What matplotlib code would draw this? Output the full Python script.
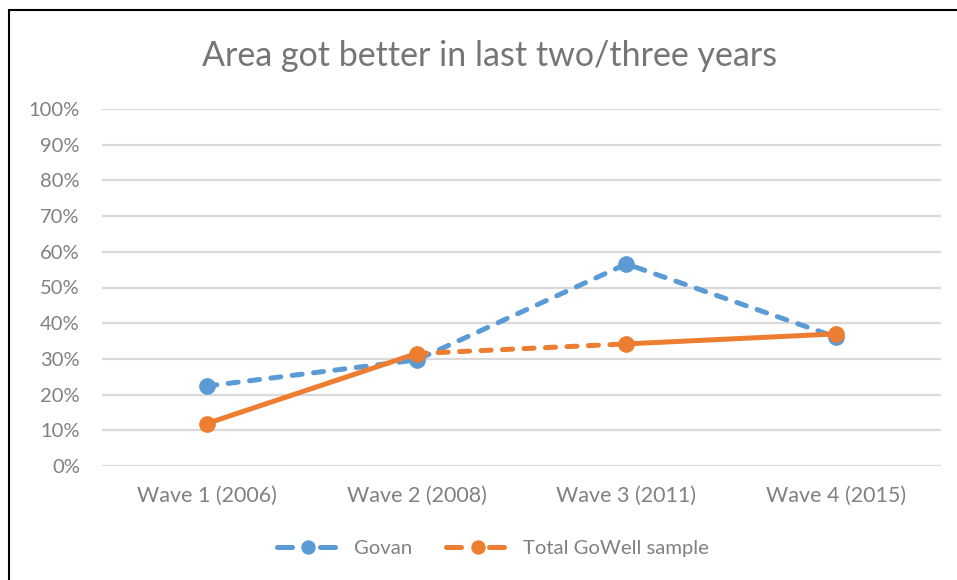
import matplotlib
matplotlib.use("Agg")
from matplotlib import pyplot
from matplotlib.lines import Line2D
from matplotlib.patches import Rectangle
from matplotlib.ticker import FuncFormatter

waves = ["Wave 1 (2006)", "Wave 2 (2008)", "Wave 3 (2011)", "Wave 4 (2015)"]
govan = [22.4, 29.7, 56.6, 36.1]
total_gowell = [11.9, 31.5, 34.2, 37.0]

BLUE = "#5b9bd5"
ORANGE = "#ed7d31"
GREY = "#808080"

pyplot.rcParams["font.family"] = ["Lato", "DejaVu Sans"]

fig = pyplot.figure(figsize=(9.57, 5.8), dpi=100)
ax = fig.add_axes([102 / 957, 1 - 466 / 580, (941 - 102) / 957, (466 - 109) / 580])

x = list(range(len(waves)))
lw = 3.6
ms = 11
dashed = (0, (2.0, 2.3))

# Govan: dashed all the way
ax.plot(x, govan, color=BLUE, lw=lw, ls=dashed, dash_capstyle="round",
        marker="o", ms=ms, zorder=3)

# Total GoWell sample: the middle segment is dashed, the others solid
for i in range(len(x) - 1):
    style = dashed if i == 1 else "-"
    ax.plot(x[i:i + 2], total_gowell[i:i + 2], color=ORANGE, lw=lw, ls=style,
            dash_capstyle="round", solid_capstyle="round", zorder=4)
ax.plot(x, total_gowell, color=ORANGE, ls="none", marker="o", ms=ms, zorder=4)

ax.set_xlim(-0.5, len(waves) - 0.5)
ax.set_ylim(0, 100)
ax.set_yticks(range(0, 101, 10))
ax.yaxis.set_major_formatter(FuncFormatter(lambda v, p: "%d%%" % v))
ax.set_xticks(x)
ax.set_xticklabels(waves)
ax.tick_params(axis="x", length=0, labelsize=15.5, labelcolor=GREY, pad=14)
ax.tick_params(axis="y", length=0, labelsize=14.5, labelcolor=GREY, pad=16)
ax.yaxis.grid(True, color="#d9d9d9", lw=1.6)
ax.set_axisbelow(True)
for s in ax.spines.values():
    s.set_visible(False)

fig.text(490 / 957, 1 - 56 / 580, "Area got better in last two/three years",
         ha="center", va="center", fontsize=24.5, color="#757575")

leg_ls = (0, (3, 5.6))
handles = [
    Line2D([], [], color=BLUE, lw=lw, ls=leg_ls, dash_capstyle="round",
           marker="o", ms=ms * 0.85),
    Line2D([], [], color=ORANGE, lw=lw, ls=leg_ls, dash_capstyle="round",
           marker="o", ms=ms * 0.85),
]
fig.legend(handles, ["Govan", "Total GoWell sample"], loc="center",
           bbox_to_anchor=(493 / 957, 1 - 548 / 580), ncol=2, frameon=False,
           fontsize=14.6, labelcolor=GREY, handlelength=3.1, handletextpad=0.7,
           columnspacing=1.7)

# chart border, only the left and top edges show
fig.patches.append(Rectangle((9 / 957, -0.1), 1.2, 1.1 - 10 / 580,
                             transform=fig.transFigure, fill=False,
                             edgecolor="black", lw=1.5, zorder=0))

fig.savefig("out.png", dpi=100)
